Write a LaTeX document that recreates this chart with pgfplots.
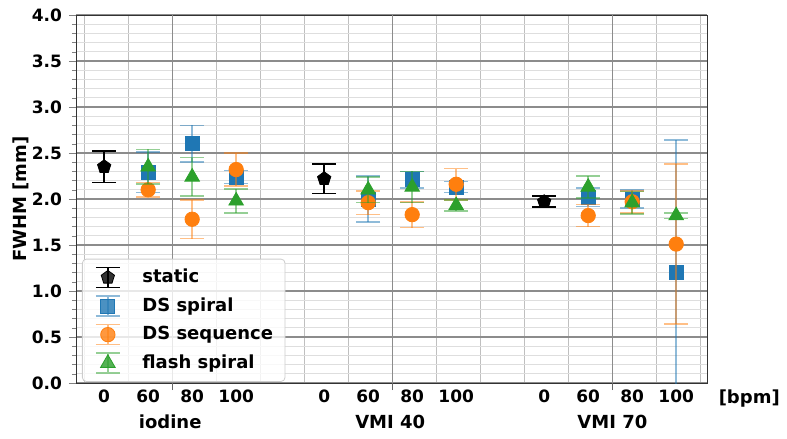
\documentclass[border=0pt]{standalone}
\usepackage{fontspec}
\setmainfont{DejaVu Sans}
\usepackage{pgfplots}
\usepackage{pgfplotstable}
\pgfplotsset{compat=1.18}
\usetikzlibrary{plotmarks}

\definecolor{tabblue}{HTML}{1F77B4}
\definecolor{taborange}{HTML}{FF7F0E}
\definecolor{tabgreen}{HTML}{2CA02C}

% x: 0-3 iodine, 5-8 VMI 40, 10-13 VMI 70 (0, 60, 80, 100 bpm)
\pgfplotstableread{
x  y    e
0  2.35 0.17
5  2.22 0.16
10 1.97 0.06
}\staticdata
\pgfplotstableread{
x  y    e
1  2.29 0.22
2  2.60 0.20
3  2.24 0.07
6  2.00 0.25
7  2.21 0.09
8  2.13 0.06
11 2.02 0.10
12 2.00 0.10
13 1.20 1.44
}\dsspiral
\pgfplotstableread{
x  y    e
1  2.10 0.08
2  1.78 0.21
3  2.32 0.18
6  1.96 0.13
7  1.83 0.14
8  2.16 0.17
11 1.82 0.12
12 1.97 0.12
13 1.51 0.87
}\dssequence
\pgfplotstableread{
x  y    e
1  2.35 0.19
2  2.24 0.21
3  1.98 0.13
6  2.10 0.14
7  2.13 0.17
8  1.93 0.06
11 2.13 0.12
12 1.96 0.12
13 1.82 0.03
}\flashspiral

\pgfplotsset{
  errleg/.style={legend image code/.code={
    \path (0cm,0cm) (0.6cm+6.5pt,0cm);
    \draw[##1, solid, line width=0.8pt, draw opacity=#1]
      (0.3cm,-5pt) -- (0.3cm,5pt)
      (0.3cm-6pt,-5pt) -- (0.3cm+6pt,-5pt)
      (0.3cm-6pt,5pt) -- (0.3cm+6pt,5pt);
    \draw[##1] plot coordinates {(0.3cm,0cm)};
  }},
  ebars/.style={error bars/.cd, y dir=both, y explicit,
    error mark=-,
    error bar style={line width=0.8pt, draw opacity=#1},
    error mark options={rotate=90, mark size=6pt, line width=0.8pt, draw opacity=#1},
    /pgfplots/.cd},
}

\begin{document}
\begin{tikzpicture}
\begin{axis}[
  scale only axis, width=315.5pt, height=184pt,
  at={(0,0)}, anchor=south west,
  xmin=-0.64, xmax=13.7, ymin=0, ymax=4,
  clip mode=individual,
  tick pos=left, tick align=outside,
  major tick length=3.5pt, minor tick length=2pt,
  axis line style={black!80},
  xtick={0,1,2,3,5,6,7,8,10,11,12,13},
  xticklabels={0,60,80,100,0,60,80,100,0,60,80,100},
  xtick style={draw=none},
  minor xtick={-0.45,0.55,2.55,3.55,4.55,5.55,7.55,8.55,9.55,10.55,12.55,13.55},
  extra x ticks={1.55,6.55,11.55},
  extra x tick labels={},
  extra x tick style={xmajorgrids=true, xtick style={draw=black!60}},
  xminorgrids, ymajorgrids, yminorgrids,
  ytick={0,0.5,...,4},
  minor y tick num=4,
  major grid style={black!45, line width=0.6pt},
  minor grid style={black!13, line width=0.5pt},
  minor x grid style={black!25, line width=0.5pt},
  /pgf/number format/assume math mode=true,
  yticklabel style={/pgf/number format/.cd, fixed, fixed zerofill, precision=1},
  tick label style={font=\fontsize{8.5}{10}\selectfont\bfseries},
  xticklabel style={anchor=base, yshift=-6pt},
  ylabel={FWHM [mm]},
  ylabel style={font=\fontsize{9}{11}\selectfont\bfseries,
    at={(axis description cs:-0.0872,0.5)}, anchor=center},
  legend cell align=left,
  legend style={at={(rel axis cs:0.0095,0.003)}, anchor=south west,
    font=\fontsize{9}{11}\selectfont\bfseries,
    draw=black!20, rounded corners=2pt, fill=white, fill opacity=0.8,
    text opacity=1, row sep=2pt, inner xsep=4pt, inner ysep=3pt},
]
\addplot[black, only marks, mark=pentagon*, mark size=3.5pt, errleg=1, ebars=1]
  table[x=x, y=y, y error=e] {\staticdata};
\addlegendentry{static}
\addplot[tabblue, only marks, mark=square*, mark size=3.5pt, errleg=0.5, ebars=0.5]
  table[x=x, y=y, y error=e] {\dsspiral};
\addlegendentry{DS spiral}
\addplot[taborange, only marks, mark=*, mark size=3.6pt, errleg=0.5, ebars=0.5]
  table[x=x, y=y, y error=e] {\dssequence};
\addlegendentry{DS sequence}
\addplot[tabgreen, only marks, mark=triangle*, mark size=4.2pt, errleg=0.5, ebars=0.5]
  table[x=x, y=y, y error=e] {\flashspiral};
\addlegendentry{flash spiral}

\begin{scope}[font=\fontsize{9}{11}\selectfont\bfseries]
\node[anchor=base, yshift=-22.5pt] at (axis cs:1.5,0) {iodine};
\node[anchor=base, yshift=-22.5pt] at (axis cs:6.5,0) {VMI 40};
\node[anchor=base, yshift=-22.5pt] at (axis cs:11.55,0) {VMI 70};
\node[anchor=base, yshift=-10pt] at (axis cs:14.66,0) {[bpm]};
\end{scope}
\end{axis}
\pgfresetboundingbox
\path[use as bounding box] (-38pt,-28pt) rectangle (355.5pt,191.5pt);
\end{tikzpicture}
\end{document}
